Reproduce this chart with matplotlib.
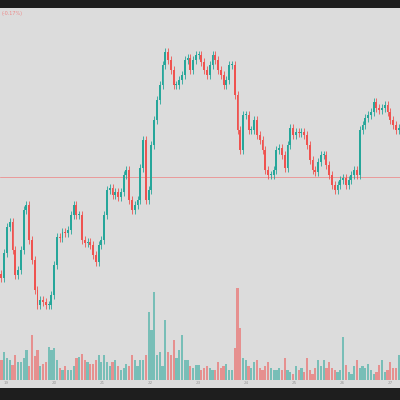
import matplotlib
matplotlib.use("Agg")
import matplotlib.pyplot as plt

# closes expressed as chart price units
ys = [278,253,227,222,250,275,270,250,210,205,240,260,290,305,300,302,305,305,295,265,
      237,238,232,233,230,215,205,215,215,240,243,242,245,255,262,245,240,215,190,188,
      195,192,197,192,175,170,200,210,205,200,168,140,200,190,145,120,100,85,65,52,
      60,70,85,85,80,75,60,58,70,
      60,55,55,62,70,75,65,55,60,70,75,85,80,65,65,95,130,150,115,115,
      130,130,120,135,140,150,170,175,175,170,150,148,155,168,145,128,135,132,133,132,
      135,145,160,170,172,162,155,155,165,175,185,190,185,180,178,185,180,175,170,175,
      130,125,118,115,112,102,108,110,108,105,112,120,125,130,128]
closes = [400 - y for y in ys]
volumes = [20,28,22,20,15,25,18,18,22,30,14,45,24,30,14,16,18,33,30,32,
           20,12,10,14,10,10,14,22,23,26,20,18,16,16,20,25,18,25,18,14,
           18,20,14,10,12,16,14,25,20,14,20,20,25,68,50,88,25,28,14,60,
           28,25,40,22,30,45,20,20,14,12,15,15,10,12,14,12,10,10,18,12,
           14,16,10,10,32,92,52,22,20,14,12,18,20,12,10,14,18,12,10,10,
           12,10,22,10,8,6,14,10,12,8,22,10,6,12,20,14,20,12,18,12,
           10,8,10,43,15,8,6,14,20,12,14,12,16,10,6,8,15,20,8,10,
           18,12,12,25,10,8,8,12]
volumes = volumes[:len(closes)] + [12] * max(0, len(closes) - len(volumes))
opens = [closes[0] + 4] + closes[:-1]

fig = plt.figure(figsize=(4, 4), dpi=100, facecolor="#1e1e1e")
ax = fig.add_axes([0, 12/400, 1, 380/400])
ax.set_facecolor("#dcdcdc")
n = len(closes)
ax.set_xlim(-0.5, n - 0.5)
ax.set_ylim(12, 392)
for s in ax.spines.values():
    s.set_visible(False)
ax.set_xticks([]); ax.set_yticks([])

green, red = "#26a69a", "#ef5350"
for i, (o, c, v) in enumerate(zip(opens, closes, volumes)):
    col = green if c >= o else red
    ax.bar(i, v, width=0.8, bottom=20, color=col, alpha=0.55, zorder=1)
    lo, hi = min(o, c), max(o, c)
    ax.vlines(i, lo - 4, hi + 4, color=col, linewidth=0.6, zorder=2)
    ax.bar(i, max(hi - lo, 1), width=0.7, bottom=lo, color=col, zorder=3)

ax.axhline(400 - 177, color="#f08080", linewidth=0.5, zorder=0)
fig.text(0.005, 0.965, "(-0.17%)", color="#e88", fontsize=3.5, va="center")
for j, lab in enumerate(["19", "20", "21", "22", "23", "24", "25", "26", "27"]):
    fig.text(0.015 + j * 0.12, 0.043, lab, color="#999", fontsize=3, ha="center", va="center")
fig.savefig("out.png", dpi=100, facecolor=fig.get_facecolor())
